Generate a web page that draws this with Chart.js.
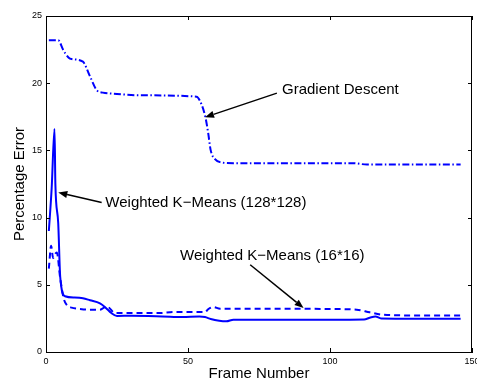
<!DOCTYPE html>
<html>
<head>
<meta charset="utf-8">
<script src="https://cdn.jsdelivr.net/npm/chart.js@4/dist/chart.umd.min.js"></script>
<style>
  html, body { margin: 0; padding: 0; background: #fff; }
  #wrap { width: 477px; height: 381px; }
</style>
</head>
<body>
<div id="wrap"><canvas id="errChart" width="477" height="381"></canvas></div>
<script>
// data
const gdFrames = [1, 4.3, 6, 8, 9, 13, 15.5, 18, 20, 25, 33, 53, 54.8, 56.2, 57.1, 58, 59.5, 61.8, 66, 108, 113, 146];
const gdError = [23.2, 23.2, 22.5, 21.9, 21.8, 21.6, 20.5, 19.45, 19.3, 19.2, 19.1, 19.0, 18.4, 17.4, 16.3, 15.0, 14.35, 14.1, 14.05, 14.05, 13.95, 13.95];

const km128Frames = [1, 2, 3, 3.3, 4.3, 5, 6.7, 10, 13, 15.5, 19, 21, 23, 25, 30, 41, 48, 54, 56, 58, 61, 63.5, 66, 80, 100, 112, 114, 116, 118, 130, 146];
const km128Error = [9.0, 12.2, 16.6, 12.5, 9.6, 5.6, 4.15, 4.05, 4.0, 3.85, 3.62, 3.3, 2.9, 2.68, 2.7, 2.65, 2.6, 2.65, 2.6, 2.45, 2.32, 2.28, 2.4, 2.4, 2.4, 2.42, 2.55, 2.65, 2.5, 2.48, 2.48];

const km16Frames = [1, 1.8, 2.5, 3.2, 3.8, 5, 6.2, 7.5, 9, 12, 15, 19, 21.4, 24.3, 30, 40, 45, 56, 57.2, 58.9, 61.3, 80, 100, 109.4, 114, 118.7, 130, 146];
const km16Error = [6.2, 7.9, 7.0, 7.3, 7.4, 5.5, 4.0, 3.45, 3.3, 3.2, 3.15, 3.15, 3.4, 2.9, 2.9, 2.9, 2.97, 2.97, 3.2, 3.35, 3.22, 3.22, 3.2, 3.15, 2.95, 2.77, 2.72, 2.72];

const xTicks = [0, 50, 100, 150];
const yTicks = [0, 5, 10, 15, 20, 25];

// text callouts, in data units
const callouts = [
  { text: 'Gradient Descent', tx: 83.1, ty: 19.5, from: [81.3, 19.26], to: [56.0, 17.47] },
  { text: 'Weighted K\u2212Means (128*128)', tx: 20.9, ty: 11.07, from: [19.6, 11.12], to: [4.33, 11.87] },
  { text: 'Weighted K\u2212Means (16*16)', tx: 47.2, ty: 7.16, from: [71.9, 6.49], to: [90.7, 3.27] }
];

const FONT = '"Liberation Sans", Arial, Helvetica, sans-serif';

function toPoints(xs, ys) {
  return xs.map((x, i) => ({ x: x, y: ys[i] }));
}

// inward ticks, top/right frame and the callouts
const framePlugin = {
  id: 'frame',
  afterDraw(chart) {
    const ctx = chart.ctx;
    const a = chart.chartArea;
    const xs = chart.scales.x, ys = chart.scales.y;
    ctx.save();
    ctx.strokeStyle = '#000';
    ctx.lineWidth = 1;
    ctx.beginPath();
    ctx.moveTo(a.left, a.top + 0.5);
    ctx.lineTo(a.right, a.top + 0.5);
    ctx.moveTo(a.right - 0.5, a.top);
    ctx.lineTo(a.right - 0.5, a.bottom);
    xTicks.forEach(v => {
      const px = Math.round(xs.getPixelForValue(v)) + 0.5;
      ctx.moveTo(px, a.bottom); ctx.lineTo(px, a.bottom - 4);
      ctx.moveTo(px, a.top); ctx.lineTo(px, a.top + 4);
    });
    yTicks.forEach(v => {
      const py = Math.round(ys.getPixelForValue(v)) + 0.5;
      ctx.moveTo(a.left, py); ctx.lineTo(a.left + 4, py);
      ctx.moveTo(a.right, py); ctx.lineTo(a.right - 4, py);
    });
    ctx.stroke();

    ctx.fillStyle = '#000';
    ctx.font = '15px ' + FONT;
    ctx.textBaseline = 'middle';
    ctx.textAlign = 'left';
    callouts.forEach(c => {
      ctx.fillText(c.text, xs.getPixelForValue(c.tx), ys.getPixelForValue(c.ty));
      const x1 = xs.getPixelForValue(c.from[0]), y1 = ys.getPixelForValue(c.from[1]);
      const x2 = xs.getPixelForValue(c.to[0]), y2 = ys.getPixelForValue(c.to[1]);
      const ang = Math.atan2(y2 - y1, x2 - x1);
      const len = 9, half = 3.5;
      const bx = x2 - len * Math.cos(ang), by = y2 - len * Math.sin(ang);
      ctx.lineWidth = 1.5;
      ctx.beginPath();
      ctx.moveTo(x1, y1);
      ctx.lineTo(bx, by);
      ctx.stroke();
      ctx.beginPath();
      ctx.moveTo(x2, y2);
      ctx.lineTo(bx + half * Math.sin(ang), by - half * Math.cos(ang));
      ctx.lineTo(bx - half * Math.sin(ang), by + half * Math.cos(ang));
      ctx.closePath();
      ctx.fill();
    });
    ctx.restore();
  }
};

const lineBase = {
  borderColor: '#0000ff',
  borderWidth: 2,
  pointRadius: 0,
  fill: false,
  cubicInterpolationMode: 'monotone',
  borderJoinStyle: 'round'
};

new Chart(document.getElementById('errChart').getContext('2d'), {
  type: 'line',
  data: {
    datasets: [
      Object.assign({ label: 'Gradient Descent', data: toPoints(gdFrames, gdError), borderDash: [7, 2.5, 1.5, 2.5] }, lineBase),
      Object.assign({ label: 'Weighted K-Means (128*128)', data: toPoints(km128Frames, km128Error) }, lineBase),
      Object.assign({ label: 'Weighted K-Means (16*16)', data: toPoints(km16Frames, km16Error), borderDash: [6, 4] }, lineBase)
    ]
  },
  options: {
    responsive: false,
    animation: false,
    devicePixelRatio: 1,
    layout: { padding: { top: 16, right: 5, left: 0, bottom: 0 } },
    plugins: {
      legend: { display: false },
      tooltip: { enabled: false }
    },
    scales: {
      x: {
        type: 'linear',
        min: 0,
        max: 150,
        grid: { display: false, drawTicks: false },
        border: { display: true, color: '#000', width: 1 },
        ticks: {
          stepSize: 50,
          padding: 4,
          maxRotation: 0,
          color: '#000',
          font: { family: FONT, size: 9 }
        },
        title: {
          display: true,
          text: 'Frame Number',
          color: '#000',
          padding: { top: 0, bottom: 0 },
          font: { family: FONT, size: 15, lineHeight: 1 }
        },
        afterFit(scale) {
          scale.height = 29;
          scale.paddingLeft = 0;
          scale.paddingRight = 0;
        }
      },
      y: {
        min: 0,
        max: 25,
        grid: { display: false, drawTicks: false },
        border: { display: true, color: '#000', width: 1 },
        ticks: {
          stepSize: 5,
          padding: 4,
          color: '#000',
          font: { family: FONT, size: 9 }
        },
        title: {
          display: true,
          text: 'Percentage Error',
          color: '#000',
          padding: { top: 12, bottom: 0 },
          font: { family: FONT, size: 15, lineHeight: 1 }
        },
        afterFit(scale) {
          scale.width = 46;
          scale.paddingTop = 0;
          scale.paddingBottom = 0;
        }
      }
    }
  },
  plugins: [framePlugin]
});
</script>
</body>
</html>
